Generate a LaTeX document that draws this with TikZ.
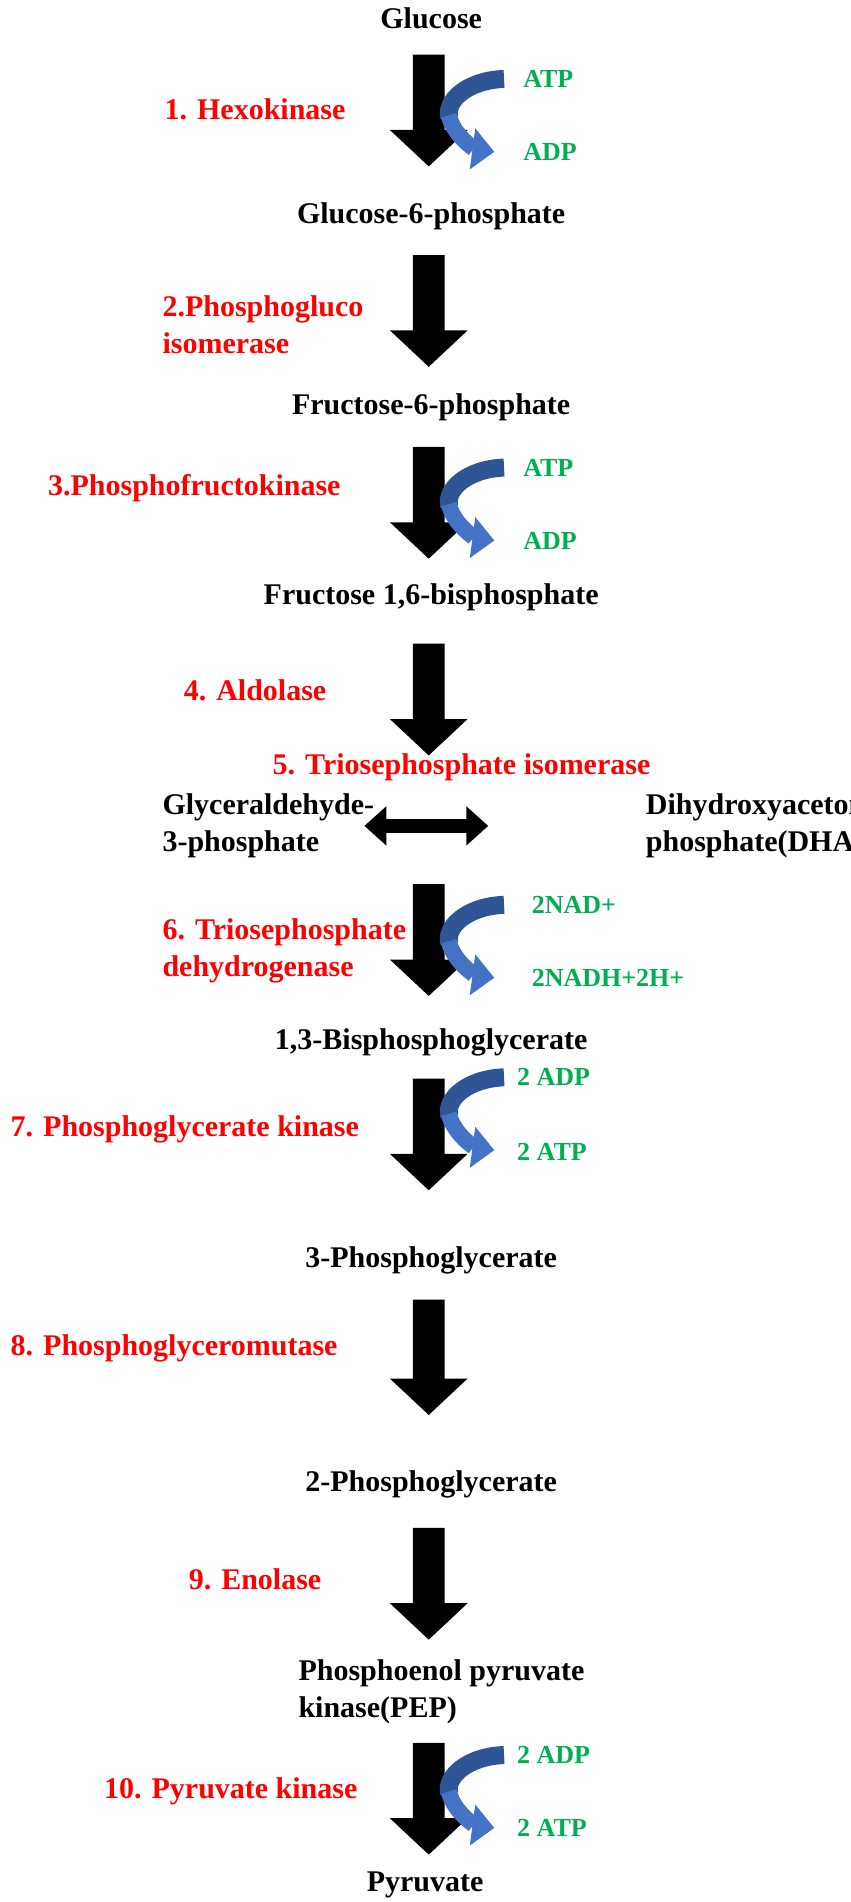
\documentclass[tikz,border=0pt]{standalone}
\usepackage{fontspec}
\setmainfont{Liberation Serif}
\usetikzlibrary{arrows.meta, positioning}
\definecolor{enzred}{RGB}{255,0,0}
\definecolor{cofgreen}{RGB}{0,176,80}
\definecolor{bluedark}{RGB}{47,85,151}
\definecolor{bluelight}{RGB}{68,114,196}
\tikzset{
  metab/.style={font=\fontsize{15}{18.5}\selectfont\bfseries, align=left},
  enzyme/.style={font=\fontsize{15}{18.5}\selectfont\bfseries, text=enzred, align=left},
  cofactor/.style={font=\fontsize{13}{15}\selectfont\bfseries, text=cofgreen, anchor=west},
  blockarrow/.style={fill=black},
}
% block arrow from y=#1 to y=#2 at x=353
\newcommand{\steparrow}[2]{%
  \fill[blockarrow] (340,#1) -- (366,#1) -- (366,#2-30) -- (385,#2-30) -- (353,#2)
    -- (321,#2-30) -- (340,#2-30) -- cycle;}
% curved cofactor arrow, top at y=#1
\newcommand{\cofarrow}[1]{%
  \draw[bluedark, line width=9pt] (415,#1) .. controls (385,#1+1) and (366,#1+18) .. (370,#1+32);
  \draw[bluelight, line width=8pt, -{Triangle[length=11pt,width=20pt]}]
    (369.5,#1+30) .. controls (374,#1+48) and (392,#1+58) .. (407,#1+60);}
\begin{document}
\begin{tikzpicture}[x=0.6075pt, y=-0.6075pt]
  \useasboundingbox (0,0) rectangle (700,1566);
  % metabolites
  \node[metab] (glc) at (355,15) {Glucose};
  \node[metab] (g6p) at (355,178) {Glucose-6-phosphate};
  \node[metab] (f6p) at (355,335) {Fructose-6-phosphate};
  \node[metab] (fbp) at (355,492) {Fructose 1,6-bisphosphate};
  \node[metab, anchor=west] (gap) at (128,680) {Glyceraldehyde-\\3-phosphate};
  \node[metab, anchor=west] (dhap) at (526,680) {Dihydroxyacetone\\phosphate(DHAP)};
  \node[metab] (bpg) at (355,858) {1,3-Bisphosphoglycerate};
  \node[metab] (pg3) at (355,1038) {3-Phosphoglycerate};
  \node[metab] (pg2) at (355,1222) {2-Phosphoglycerate};
  \node[metab, anchor=west] (pep) at (240,1393) {Phosphoenol pyruvate\\kinase(PEP)};
  \node[metab] (pyr) at (350,1552) {Pyruvate};
  % enzymes
  \node[enzyme] (e1) at (210,90) {1. Hexokinase};
  \node[enzyme, anchor=west] (e2) at (128,267) {2.Phosphogluco\\isomerase};
  \node[enzyme] (e3) at (160,402) {3.Phosphofructokinase};
  \node[enzyme] (e4) at (210,568) {4. Aldolase};
  \node[enzyme] (e5) at (380,632) {5. Triosephosphate isomerase};
  \node[enzyme, anchor=west] (e6) at (128,783) {6. Triosephosphate\\dehydrogenase};
  \node[enzyme, anchor=west] (e7) at (3,930) {7. Phosphoglycerate kinase};
  \node[enzyme, anchor=west] (e8) at (3,1110) {8. Phosphoglyceromutase};
  \node[enzyme] (e9) at (210,1300) {9. Enolase};
  \node[enzyme] (e10) at (190,1475) {10. Pyruvate kinase};
  % step arrows
  \steparrow{45}{137}
  \steparrow{210}{302}
  \steparrow{368}{460}
  \steparrow{530}{622}
  \steparrow{728}{820}
  \steparrow{888}{980}
  \steparrow{1070}{1165}
  \steparrow{1258}{1350}
  \steparrow{1435}{1527}
  \coordinate (l) at (300,680);
  \coordinate (r) at (402,680);
  \draw[line width=7pt, {Triangle[length=11pt,width=19pt]}-{Triangle[length=11pt,width=19pt]}] (l) -- (r);
  % cofactors
  \cofarrow{65}
  \node[cofactor] (atp1) at (425,65) {ATP};
  \node[cofactor] (adp1) at (425,125) {ADP};
  \cofarrow{385}
  \node[cofactor] (atp3) at (425,385) {ATP};
  \node[cofactor] (adp3) at (425,445) {ADP};
  \cofarrow{745}
  \node[cofactor] (nad) at (432,745) {2NAD+};
  \node[cofactor] (nadh) at (432,805) {2NADH+2H+};
  \cofarrow{887}
  \node[cofactor] (adp7) at (420,887) {2 ADP};
  \node[cofactor] (atp7) at (420,948) {2 ATP};
  \cofarrow{1445}
  \node[cofactor] (adp10) at (420,1445) {2 ADP};
  \node[cofactor] (atp10) at (420,1505) {2 ATP};
\end{tikzpicture}
\end{document}
